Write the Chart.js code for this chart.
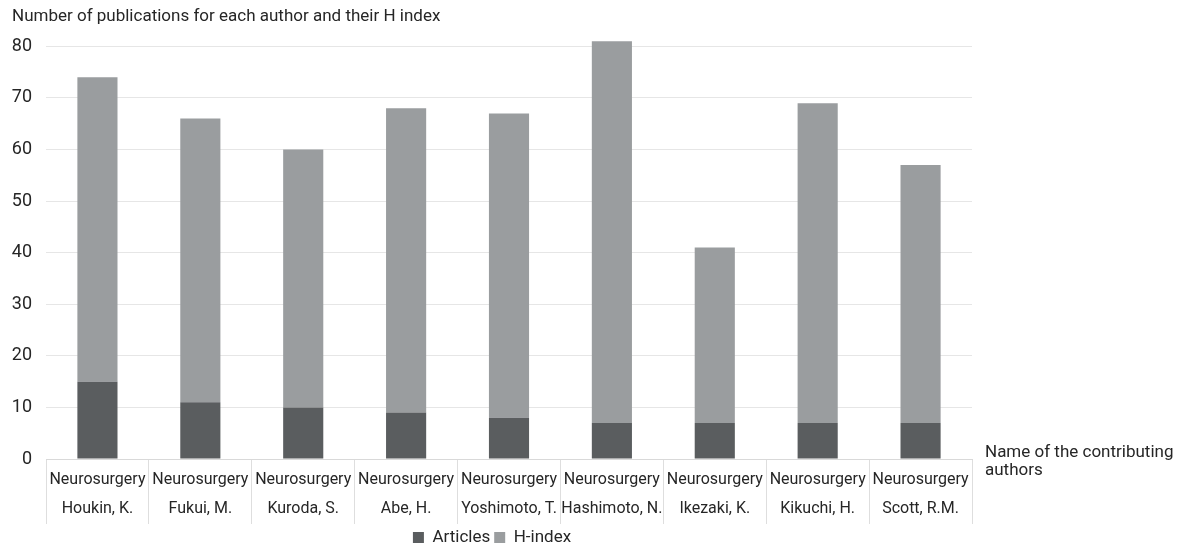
<!DOCTYPE html>
<html>
<head>
<meta charset="utf-8">
<script src="https://cdn.jsdelivr.net/npm/chart.js@4"></script>
<style>
  html, body { margin: 0; padding: 0; background: #ffffff; }
  #wrap { width: 1185px; height: 549px; position: relative; }
</style>
</head>
<body>
<div id="wrap"><canvas id="c" width="1185" height="549"></canvas></div>
<script>
// Authors (second label row) and their department (first label row)
const departments = ['Neurosurgery','Neurosurgery','Neurosurgery','Neurosurgery','Neurosurgery','Neurosurgery','Neurosurgery','Neurosurgery','Neurosurgery'];
const authors = ['Houkin, K.','Fukui, M.','Kuroda, S.','Abe, H.','Yoshimoto, T.','Hashimoto, N.','Ikezaki, K.','Kikuchi, H.','Scott, R.M.'];

// Stacked series
const articles = [15, 11, 10, 9, 8, 7, 7, 7, 7];
const hIndex   = [59, 55, 50, 59, 59, 74, 34, 62, 50];

// Y axis ticks
const yTicks = [0, 10, 20, 30, 40, 50, 60, 70, 80];

const chartTitle = 'Number of publications for each author and their H index';
const sideTitle = ['Name of the contributing', 'authors'];

const FONT = 'Roboto, "Noto Sans", sans-serif';

// Axis caption drawn to the right of the category axis
const sideTitlePlugin = {
  id: 'sideTitle',
  afterDraw(chart) {
    const ctx = chart.ctx;
    const area = chart.chartArea;
    ctx.save();
    ctx.fillStyle = '#262626';
    ctx.font = '17px ' + FONT;
    ctx.textAlign = 'left';
    ctx.textBaseline = 'middle';
    ctx.fillText(sideTitle[0], area.right + 13, area.bottom - 6);
    ctx.fillText(sideTitle[1], area.right + 13, area.bottom + 12);
    ctx.restore();
  }
};

new Chart(document.getElementById('c'), {
  type: 'bar',
  data: {
    labels: authors.map((a, i) => [departments[i], a]),
    datasets: [
      { label: 'Articles', data: articles, backgroundColor: '#5a5d5f', barPercentage: 0.78, categoryPercentage: 0.5, clip: false },
      { label: 'H-index', data: hIndex, backgroundColor: '#9a9d9f', barPercentage: 0.78, categoryPercentage: 0.5, clip: false }
    ]
  },
  options: {
    responsive: false,
    animation: false,
    layout: { padding: { left: 12, right: 213, top: 0, bottom: -7 } },
    plugins: {
      title: {
        display: true,
        text: chartTitle,
        align: 'start',
        color: '#262626',
        font: { family: FONT, size: 17, weight: 'normal' },
        padding: { top: 7, bottom: 19 }
      },
      legend: {
        position: 'bottom',
        labels: {
          boxWidth: 11, boxHeight: 11, padding: 4,
          color: '#262626',
          font: { family: FONT, size: 17, lineHeight: 1.0 },
          useBorderRadius: false
        }
      },
      tooltip: { enabled: false }
    },
    scales: {
      x: {
        stacked: true,
        border: { display: true, color: '#d9d9d9' },
        grid: {
          offset: true,
          drawOnChartArea: false,
          drawTicks: true,
          tickLength: 65,
          color: '#dedede'
        },
        ticks: {
          padding: -58,
          maxRotation: 0,
          autoSkip: false,
          color: '#262626',
          font: { family: FONT, size: 16, lineHeight: 1.81 }
        },
        afterFit(scale) { scale.height = 66; }
      },
      y: {
        stacked: true,
        min: 0, max: 80,
        afterBuildTicks(scale) { scale.ticks = yTicks.map(v => ({ value: v })); },
        border: { display: false },
        grid: { color: '#e6e6e6', drawTicks: false },
        ticks: {
          padding: 14,
          color: '#262626',
          font: { family: FONT, size: 18 }
        },
        afterFit(scale) { scale.width = 34; }
      }
    }
  },
  plugins: [sideTitlePlugin]
});
</script>
</body>
</html>
